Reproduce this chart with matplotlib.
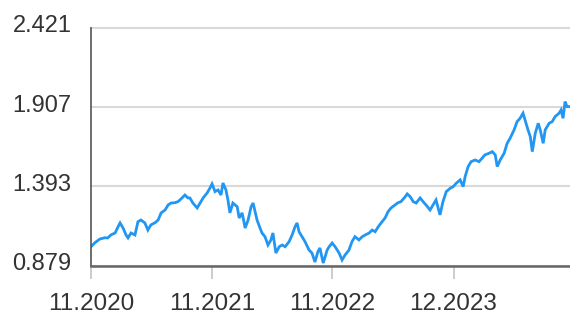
# Price index line chart, Nov 2020 - Nov 2024

import numpy as np
import pandas as pd
import matplotlib
matplotlib.use("Agg")
import matplotlib.pyplot as plt
from matplotlib.transforms import ScaledTranslation

# days since 30.11.2020 and the value at that day
days = [0, 12, 27, 42, 51, 60, 73, 82, 88, 97, 106, 112, 121, 133, 142, 151, 163, 172,
        181, 194, 203, 212, 224, 233, 242, 254, 263, 272, 284, 293, 299, 308, 321, 330,
        339, 351, 360, 366, 375, 384, 393, 399, 408, 414, 420, 429, 442, 448, 457, 466,
        475, 484, 490, 502, 511, 517, 526, 535, 544, 550, 559, 569, 578, 587, 599, 608,
        617, 623, 629, 638, 647, 659, 668, 677, 686, 692, 702, 714, 720, 729, 738, 750,
        759, 768, 780, 789, 798, 810, 820, 829, 841, 850, 859, 868, 877, 889, 898, 907,
        919, 928, 937, 950, 956, 965, 974, 983, 995, 1004, 1013, 1025, 1034, 1043, 1055,
        1064, 1074, 1086, 1095, 1104, 1116, 1125, 1131, 1140, 1149, 1161, 1173, 1182,
        1191, 1204, 1213, 1222, 1228, 1237, 1249, 1258, 1267, 1279, 1288, 1297, 1306,
        1312, 1321, 1328, 1334, 1343, 1352, 1358, 1367, 1373, 1385, 1394, 1403, 1415,
        1421, 1427, 1433, 1439, 1445]
values = [1.002, 1.028, 1.052, 1.060, 1.059, 1.078, 1.091, 1.132, 1.156, 1.123, 1.078,
          1.059, 1.091, 1.078, 1.164, 1.175, 1.156, 1.110, 1.143, 1.158, 1.175, 1.221,
          1.240, 1.272, 1.285, 1.287, 1.294, 1.311, 1.337, 1.318, 1.318, 1.285, 1.253,
          1.285, 1.318, 1.350, 1.383, 1.409, 1.359, 1.370, 1.337, 1.415, 1.370, 1.305,
          1.221, 1.285, 1.261, 1.188, 1.221, 1.123, 1.175, 1.261, 1.285, 1.175, 1.123,
          1.091, 1.067, 1.013, 1.046, 1.091, 0.961, 1.002, 1.013, 1.002, 1.035, 1.078,
          1.132, 1.156, 1.099, 1.067, 1.035, 0.981, 0.961, 0.903, 0.970, 0.994, 0.896,
          0.981, 1.002, 1.026, 1.002, 0.961, 0.916, 0.948, 0.981, 1.035, 1.067, 1.046,
          1.067, 1.078, 1.091, 1.110, 1.099, 1.130, 1.156, 1.188, 1.229, 1.253, 1.272,
          1.287, 1.294, 1.326, 1.344, 1.326, 1.294, 1.285, 1.318, 1.294, 1.272, 1.240,
          1.272, 1.305, 1.208, 1.294, 1.359, 1.381, 1.391, 1.413, 1.435, 1.391, 1.456,
          1.521, 1.553, 1.564, 1.553, 1.575, 1.597, 1.608, 1.618, 1.597, 1.521, 1.564,
          1.608, 1.672, 1.705, 1.759, 1.812, 1.834, 1.867, 1.823, 1.759, 1.715, 1.618,
          1.737, 1.802, 1.759, 1.672, 1.759, 1.802, 1.812, 1.845, 1.867, 1.888, 1.834,
          1.942, 1.910, 1.910]

y_ticks = [0.879, 1.393, 1.907, 2.421]
x_ticks = [0, 365, 730, 1096]
x_labels = ["11.2020", "11.2021", "11.2022", "12.2023"]

plt.rcParams['font.family'] = ['Liberation Sans', 'DejaVu Sans']

fig = plt.figure(figsize=(5.7, 3.18), dpi=100)
ax = fig.add_axes([0.1596, 0.1645, 0.8404, 0.7484])

ax.plot(days, values, color='#2196f3', linewidth=2.0, solid_joinstyle='miter')

ax.set_xlim(0, 1448)
ax.set_ylim(y_ticks[0], y_ticks[-1])
ax.set_yticks(y_ticks)
ax.set_yticklabels(["%.3f" % v for v in y_ticks])
ax.set_xticks(x_ticks)
ax.set_xticklabels(x_labels)

ax.grid(axis='y', color='#d9d9d9', linewidth=1.5)
ax.set_axisbelow(True)
for gl in ax.yaxis.get_gridlines():
    gl.set_clip_on(False)

for s in ['top', 'right']:
    ax.spines[s].set_visible(False)
ax.spines['left'].set_color('#555555')
ax.spines['left'].set_linewidth(1.2)
ax.spines['bottom'].set_color('#666666')
ax.spines['bottom'].set_linewidth(1.8)

ax.tick_params(axis='y', length=0, pad=14, labelsize=17, labelcolor='#333333')
ax.tick_params(axis='x', length=9, width=1.4, color='#cccccc', pad=11,
               labelsize=17.5, labelcolor='#333333')

# y labels sit a little above their grid lines
for lab in ax.get_yticklabels():
    lab.set_transform(lab.get_transform() + ScaledTranslation(0, 4 / 100, fig.dpi_scale_trans))

fig.savefig('out.png', dpi=100)
